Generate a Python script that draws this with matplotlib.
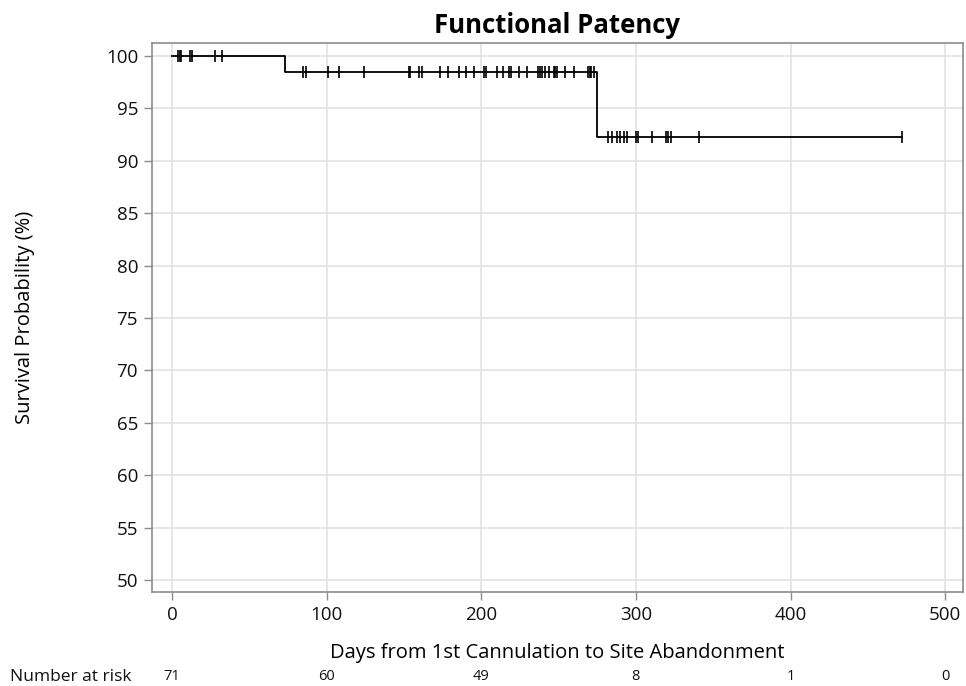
import numpy as np
import matplotlib
matplotlib.use("Agg")
import matplotlib.pyplot as plt
from matplotlib.transforms import blended_transform_factory

plt.rcParams['font.family'] = ['Open Sans', 'DejaVu Sans']

# Kaplan-Meier step data
step_times = [0, 73, 275, 472]
step_surv = [100.0, 98.5, 92.3, 92.3]

# censoring times (days)
censor_times = [4, 5, 6, 11.5, 13, 28, 32.5,
                85, 87, 101, 108, 124.5, 153, 154, 159.5, 162, 173.5, 178.5, 185.5,
                190, 195, 202, 203, 210, 214, 218, 219, 224.5, 229.5, 237, 238, 239,
                241.5, 244, 247, 248, 249, 254, 260, 269, 270, 271, 273,
                282, 284.5, 287.5, 289.5, 292.5, 294, 300, 301.5, 310.5, 319.5, 321, 322.5,
                341, 472]

risk_times = [0, 100, 200, 300, 400, 500]
risk_counts = [71, 60, 49, 8, 1, 0]

x_ticks = [0, 100, 200, 300, 400, 500]
y_ticks = [50, 55, 60, 65, 70, 75, 80, 85, 90, 95, 100]

W, H = 966, 686
fig = plt.figure(figsize=(W / 100, H / 100), dpi=100)
L, R, T, B = 152, 963, 43, 592
ax = fig.add_axes([L / W, 1 - B / H, (R - L) / W, (B - T) / H])

grid_c = '#e3e3e3'
spine_c = '#8c8c8c'
ax.set_xticks(x_ticks)
ax.set_yticks(y_ticks)
ax.grid(True, color=grid_c, linewidth=1.2)
ax.set_axisbelow(True)
for s in ax.spines.values():
    s.set_color(spine_c)
    s.set_linewidth(1.2)
ax.tick_params(axis='both', direction='out', length=6, width=1.0, color=spine_c,
               labelsize=13.5, labelcolor='#111111', pad=4)

ax.step(step_times, step_surv, where='post', color='black', linewidth=1.3, zorder=3)

st = np.array(step_times)
sv = np.array(step_surv)
idx = np.searchsorted(st, np.array(censor_times), side='right') - 1
cy = sv[idx]
ax.plot(censor_times, cy, linestyle='none', marker='|', markersize=9,
        markeredgewidth=1.2, color='black', zorder=4)

ax.set_xlim(-12.9, 511.5)
ax.set_ylim(48.85, 101.25)

ax.set_title('Functional Patency', fontsize=18.5, fontweight='bold', pad=7)
ax.set_ylabel('Survival Probability (%)', fontsize=14.5, va='center')
ax.yaxis.set_label_coords((25 - L) / (R - L), 0.5)
ax.set_xlabel('Days from 1st Cannulation to Site Abandonment', fontsize=14.5)
ax.xaxis.set_label_coords(0.5, -(653 - B) / (B - T))
ax.xaxis.label.set_va('center')

trans = blended_transform_factory(ax.transData, fig.transFigure)
ry = 1 - 677 / H
for t, n in zip(risk_times, risk_counts):
    ax.text(t, ry, str(n), transform=trans, ha='center', va='center', fontsize=10.5,
            color='#111111')
fig.text(10 / W, ry, 'Number at risk', ha='left', va='center', fontsize=12.5, color='#111111')

fig.savefig('out.png', dpi=100)
